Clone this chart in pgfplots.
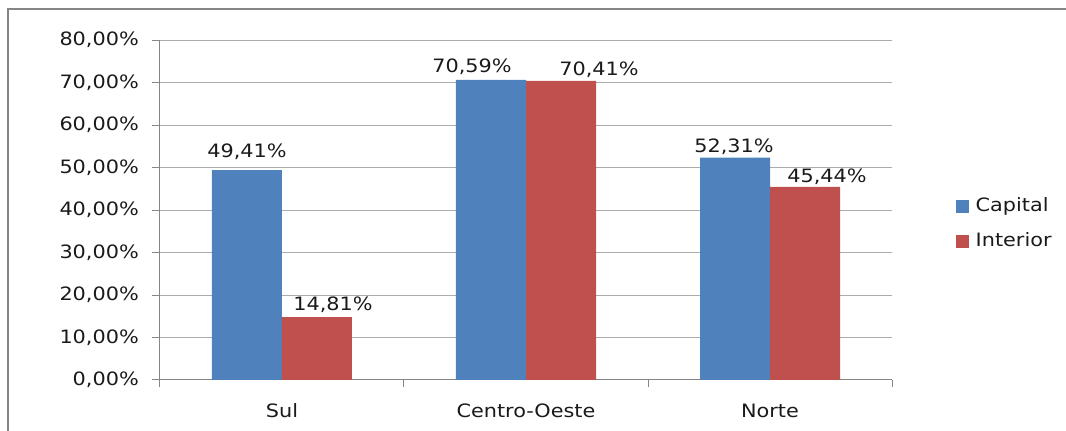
\documentclass[border=0pt]{standalone}
\usepackage{pgfplots}
\pgfplotsset{compat=1.18}
\usepackage{pgfplotstable}
\usepackage{fontspec}
\setmainfont{DejaVu Sans}[FakeStretch=1.13]
\definecolor{capblue}{HTML}{4F81BD}
\definecolor{intred}{HTML}{C0504D}
\definecolor{axgray}{HTML}{868686}
\definecolor{gridgray}{HTML}{ABABAB}
\definecolor{txt}{HTML}{1A1A1A}

\pgfplotstableread{
x y dx dy
0 49.41 0 13
1 70.59 -19 7
2 52.31 -1 5
}\capital
\pgfplotstableread{
x y dx dy
0 14.81 16 7
1 70.41 38 5
2 45.44 22 4
}\interior

\begin{document}
\begin{tikzpicture}[font=\fontsize{18.4}{22}\selectfont, text=txt]
\path[use as bounding box] (-160pt,-51pt) rectangle (906pt,380pt);
\draw[axgray, line width=1.5pt] (-152pt,-60pt) -- (-152pt,371pt) -- (915pt,371pt);
\begin{axis}[
  at={(0,0)}, anchor=south west,
  scale only axis, width=732pt, height=340pt,
  ymin=0, ymax=80, xmin=-0.5, xmax=2.5,
  ybar=0pt, bar width=70pt,
  axis x line*=bottom, axis y line*=left,
  axis line style={axgray, line width=1pt},
  ymajorgrids, grid style={gridgray, line width=1pt},
  ytick={0,10,...,80},
  /pgf/number format/assume math mode=true,
  yticklabel={\pgfmathprintnumber[fixed,fixed zerofill,precision=2,use comma]{\tick}\%},
  yticklabel style={inner sep=0pt, anchor=east, xshift=-13pt},
  tick align=outside,
  major tick length=8pt,
  minor tick length=7pt,
  ytick style={axgray, line width=1pt},
  xtick={0,1,2}, xticklabels={Sul,Centro-Oeste,Norte},
  major x tick style={draw=none},
  minor xtick={-0.5,0.5,1.5,2.5},
  minor x tick style={axgray, line width=1pt},
  xticklabel style={inner sep=0pt, anchor=base, yshift=-30pt},
  point meta=y,
  nodes near coords={\pgfmathprintnumber[fixed,fixed zerofill,precision=2,use comma]{\pgfplotspointmeta}\%},
  visualization depends on={\thisrow{dx} \as \dx},
  visualization depends on={\thisrow{dy} \as \dy},
  every node near coord/.append style={anchor=base, inner sep=0pt, xshift=\dx pt, yshift=\dy pt},
  every axis plot post/.append style={legend image code/.code={\fill[##1] (0pt,-7.5pt) rectangle (13pt,5.5pt);}},
  legend style={at={(axis description cs:1,0.462)}, anchor=west, xshift=63.5pt,
    draw=none, fill=none, inner sep=0pt, row sep=16pt, column sep=4pt,
    nodes={inner sep=3pt, text height=13pt, text depth=0pt}},
  legend cell align=left,
]
\addplot[fill=capblue, draw=none] table[x=x,y=y]{\capital};
\addplot[fill=intred, draw=none] table[x=x,y=y]{\interior};
\legend{Capital,Interior}
\end{axis}
\end{tikzpicture}
\end{document}
